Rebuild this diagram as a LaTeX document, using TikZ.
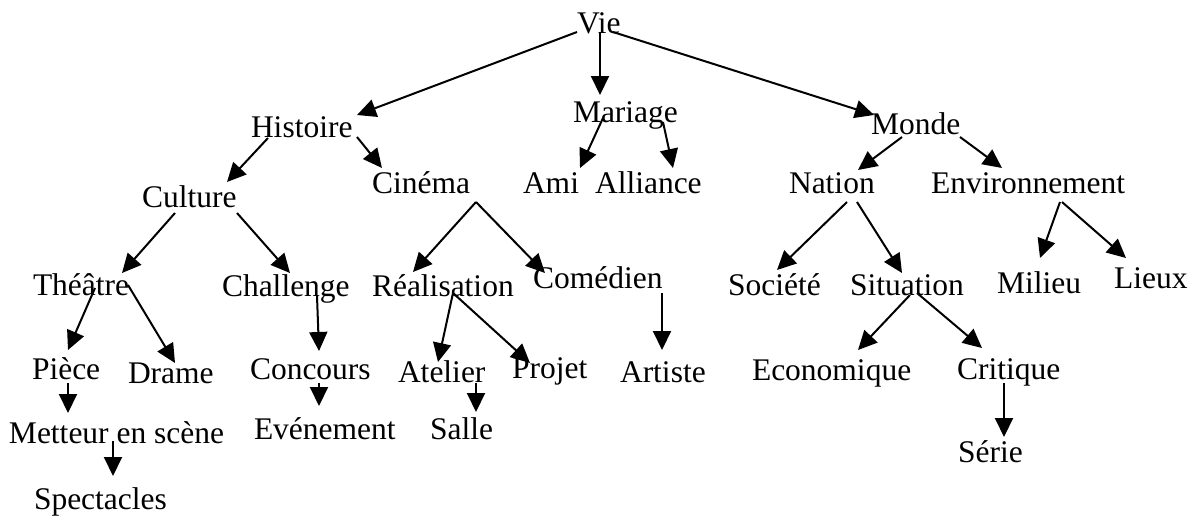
\documentclass[tikz,border=0pt]{standalone}
\usepackage{fontspec}
\setmainfont{Liberation Serif}
\usetikzlibrary{arrows.meta}
\tikzset{
  word/.style={anchor=base west, inner sep=0pt, outer sep=0pt,
    font=\fontsize{31.5}{36}\selectfont},
  arr/.style={line width=2pt, -{Triangle[length=19pt 0 0,width=18pt 0 0]}}
}
\begin{document}
\begin{tikzpicture}[x=1pt,y=-1pt]
\useasboundingbox[fill=white] (0,0) rectangle (1194,517);
% words, placed by left edge and baseline
\node[word] (vie)     at (577,33)  {Vie};
\node[word] (hist)    at (251,137) {Histoire};
\node[word] (mar)     at (573,122) {Mariage};
\node[word] (monde)   at (871,134) {Monde};
\node[word] (cult)    at (142,207) {Culture};
\node[word] (cine)    at (372,193) {Cinéma};
\node[word] (ami)     at (523,193) {Ami};
\node[word] (alli)    at (595,193) {Alliance};
\node[word] (nation)  at (789,193) {Nation};
\node[word] (env)     at (931,193) {Environnement};
\node[word] (theatre) at (33,295)  {Théâtre};
\node[word] (chal)    at (222,296) {Challenge};
\node[word] (real)    at (372,296) {Réalisation};
\node[word] (come)    at (533,288) {Comédien};
\node[word] (soc)     at (728,295) {Société};
\node[word] (sit)     at (850,295) {Situation};
\node[word] (mil)     at (997,293) {Milieu};
\node[word] (lieux)   at (1114,288) {Lieux};
\node[word] (piece)   at (32,379)  {Pièce};
\node[word] (drame)   at (128,383) {Drame};
\node[word] (conc)    at (250,379) {Concours};
\node[word] (atel)    at (398,382) {Atelier};
\node[word] (projet)  at (512,378) {Projet};
\node[word] (artiste) at (620,382) {Artiste};
\node[word] (eco)     at (752,380) {Economique};
\node[word] (crit)    at (957,379) {Critique};
\node[word] (mett)    at (9,443)   {Metteur en scène};
\node[word] (even)    at (254,439) {Evénement};
\node[word] (salle)   at (430,439) {Salle};
\node[word] (serie)   at (958,462) {Série};
\node[word] (spect)   at (34,509)  {Spectacles};
% arrows, each from a point on its parent word to a point on its child word
\draw[arr] ([shift={(0,-1)}]vie.base west)   -- ([shift={(106,-22)}]hist.base west);
\draw[arr] ([shift={(23,-1)}]vie.base west)  -- ([shift={(27,-27)}]mar.base west);
\draw[arr] ([shift={(36,-1)}]vie.base west)  -- ([shift={(3,-19)}]monde.base west);
\draw[arr] ([shift={(17,1)}]hist.base west)  -- ([shift={(85,-25)}]cult.base west);
\draw[arr] ([shift={(106,0)}]hist.base west) -- ([shift={(10,-25)}]cine.base west);
\draw[arr] ([shift={(30,-4)}]mar.base west)  -- ([shift={(57,-25)}]ami.base west);
\draw[arr] ([shift={(90,0)}]mar.base west)   -- ([shift={(78,-25)}]alli.base west);
\draw[arr] ([shift={(31,3)}]monde.base west) -- ([shift={(69,-23)}]nation.base west);
\draw[arr] ([shift={(89,3)}]monde.base west) -- ([shift={(71,-25)}]env.base west);
\draw[arr] ([shift={(33,6)}]cult.base west)  -- ([shift={(89,-22)}]theatre.base west);
\draw[arr] ([shift={(95,6)}]cult.base west)  -- ([shift={(68,-23)}]chal.base west);
\draw[arr] ([shift={(104,9)}]cine.base west) -- ([shift={(41,-24)}]real.base west);
\draw[arr] ([shift={(104,9)}]cine.base west) -- ([shift={(12,-15)}]come.base west);
\draw[arr] ([shift={(58,9)}]nation.base west) -- ([shift={(49,-25)}]soc.base west);
\draw[arr] ([shift={(68,9)}]nation.base west) -- ([shift={(52,-22)}]sit.base west);
\draw[arr] ([shift={(129,9)}]env.base west)  -- ([shift={(43,-35)}]mil.base west);
\draw[arr] ([shift={(131,9)}]env.base west)  -- ([shift={(12,-30)}]lieux.base west);
\draw[arr] ([shift={(62,-7)}]theatre.base west) -- ([shift={(36,-29)}]piece.base west);
\draw[arr] ([shift={(95,-10)}]theatre.base west) -- ([shift={(47,-20)}]drame.base west);
\draw[arr] ([shift={(95,0)}]chal.base west)  -- ([shift={(69,-28)}]conc.base west);
\draw[arr] ([shift={(81,-3)}]real.base west) -- ([shift={(40,-20)}]atel.base west);
\draw[arr] ([shift={(81,-3)}]real.base west) -- ([shift={(18,-15)}]projet.base west);
\draw[arr] ([shift={(129,5)}]come.base west) -- ([shift={(42,-32)}]artiste.base west);
\draw[arr] ([shift={(60,0)}]sit.base west)   -- ([shift={(106,-30)}]eco.base west);
\draw[arr] ([shift={(67,-2)}]sit.base west)  -- ([shift={(25,-31)}]crit.base west);
\draw[arr] ([shift={(36,4)}]piece.base west) -- ([shift={(59,-30)}]mett.base west);
\draw[arr] ([shift={(69,4)}]conc.base west)  -- ([shift={(65,-33)}]even.base west);
\draw[arr] ([shift={(78,1)}]atel.base west)  -- ([shift={(46,-27)}]salle.base west);
\draw[arr] ([shift={(104,-2)}]mett.base west) -- ([shift={(79,-33)}]spect.base west);
\draw[arr] ([shift={(47,4)}]crit.base west)  -- ([shift={(46,-25)}]serie.base west);
\end{tikzpicture}
\end{document}
